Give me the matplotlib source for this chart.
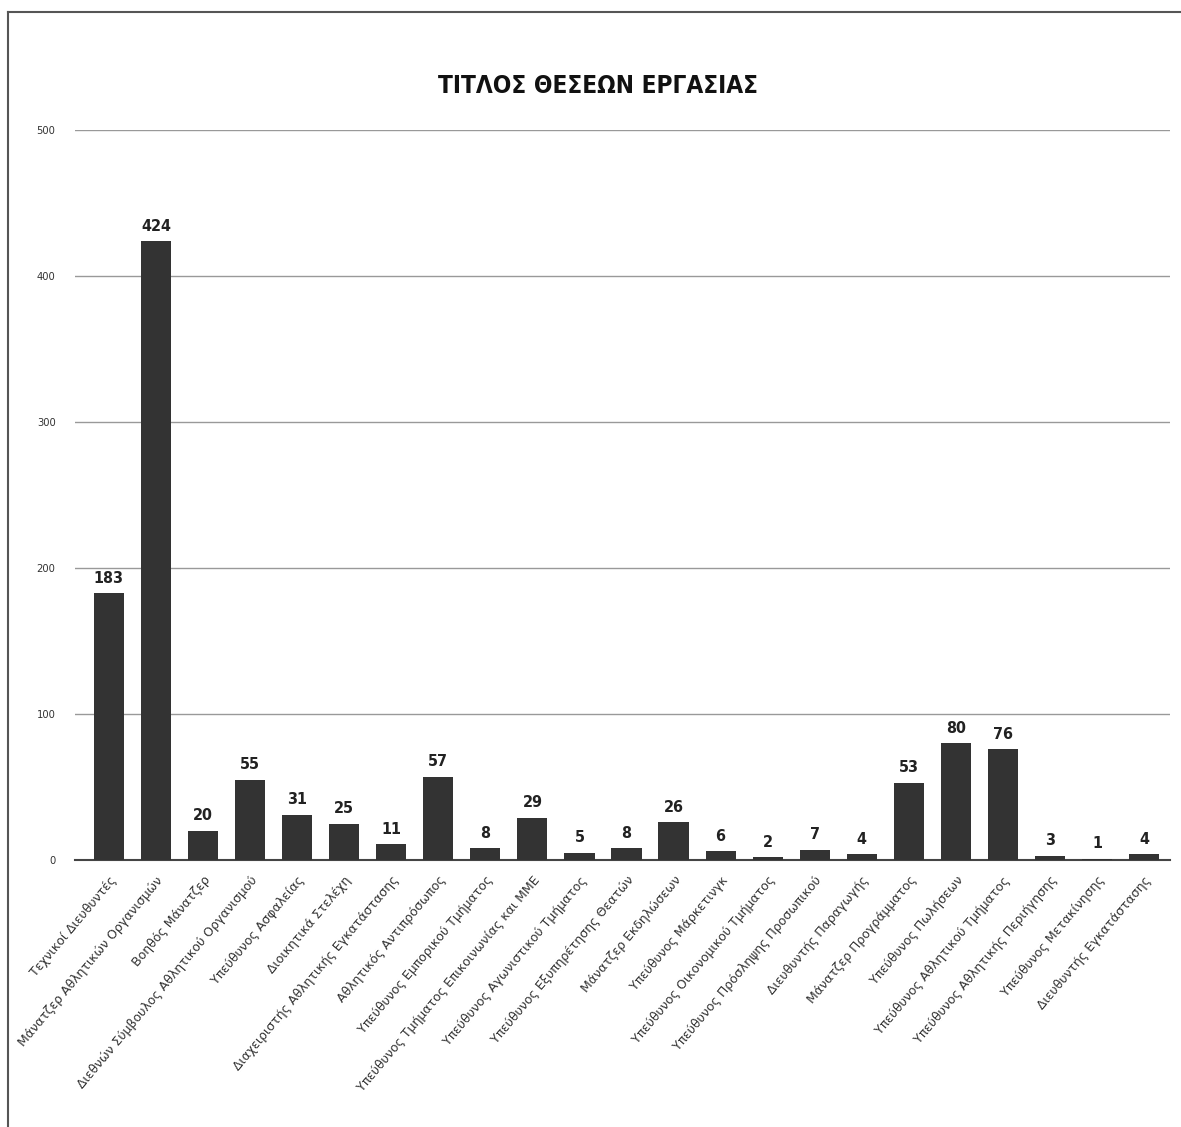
import numpy as np
import matplotlib.pyplot as plt
from matplotlib.lines import Line2D

# Τίτλοι θέσεων και πλήθος
titles = [
    "Τεχνικοί Διευθυντές",
    "Μάνατζερ Αθλητικών Οργανισμών",
    "Βοηθός Μάνατζερ",
    "Διεθνών Σύμβουλος Αθλητικού Οργανισμού",
    "Υπεύθυνος Ασφαλείας",
    "Διοικητικά Στελέχη",
    "Διαχειριστής Αθλητικής Εγκατάστασης",
    "Αθλητικός Αντιπρόσωπος",
    "Υπεύθυνος Εμπορικού Τμήματος",
    "Υπεύθυνος Τμήματος Επικοινωνίας και ΜΜΕ",
    "Υπεύθυνος Αγωνιστικού Τμήματος",
    "Υπεύθυνος Εξυπηρέτησης Θεατών",
    "Μάνατζερ Εκδηλώσεων",
    "Υπεύθυνος Μάρκετινγκ",
    "Υπεύθυνος Οικονομικού Τμήματος",
    "Υπεύθυνος Πρόσληψης Προσωπικού",
    "Διευθυντής Παραγωγής",
    "Μάνατζερ Προγράμματος",
    "Υπεύθυνος Πωλήσεων",
    "Υπεύθυνος Αθλητικού Τμήματος",
    "Υπεύθυνος Αθλητικής Περιήγησης",
    "Υπεύθυνος Μετακίνησης",
    "Διευθυντής Εγκατάστασης",
]
counts = [183, 424, 20, 55, 31, 25, 11, 57, 8, 29, 5, 8, 26, 6, 2, 7, 4,
          53, 80, 76, 3, 1, 4]
y_ticks = [0, 100, 200, 300, 400, 500]

plt.rcParams['font.family'] = ["DejaVu Sans"]

fig = plt.figure(figsize=(11.81, 11.27), dpi=100)
ax = fig.add_axes([75 / 1181, 1 - 860 / 1127, (1170 - 75) / 1181, (860 - 130) / 1127])

x = np.arange(len(counts))
bars = ax.bar(x, counts, width=0.64, color="#333333", zorder=3)

for xi, v in zip(x, counts):
    ax.text(xi, v + 5, str(v), ha="center", va="bottom", fontsize=11.5,
            fontweight="bold", fontstretch="condensed", color="#222222")

ax.set_xlim(-0.72, 22.55)
ax.set_ylim(0, 500)
ax.set_yticks(y_ticks)
ax.set_yticklabels([str(t) for t in y_ticks], fontsize=8, fontstretch="condensed",
                   color="#333333")
ax.yaxis.grid(True, color="#999999", linewidth=1, zorder=0)
ax.set_axisbelow(True)
ax.tick_params(axis="both", length=0)
ax.tick_params(axis="y", pad=14)

ax.set_xticks(x)
ax.set_xticklabels(titles, rotation=50, ha="right", rotation_mode="anchor",
                   fontsize=9, color="#333333")
ax.tick_params(axis="x", pad=10)

for s in ["top", "right", "left"]:
    ax.spines[s].set_visible(False)
ax.spines["bottom"].set_color("#444444")
ax.spines["bottom"].set_linewidth(1.5)

fig.text(598 / 1181, 1 - 86 / 1127, "ΤΙΤΛΟΣ ΘΕΣΕΩΝ ΕΡΓΑΣΙΑΣ", ha="center",
         va="center", fontsize=17.5, fontweight="bold", fontstretch="condensed",
         color="#111111")

# περίγραμμα σελίδας
fig.add_artist(Line2D([8 / 1181, 8 / 1181], [0, 1 - 12 / 1127],
                      transform=fig.transFigure, color="#555555", linewidth=1.5))
fig.add_artist(Line2D([8 / 1181, 1], [1 - 12 / 1127, 1 - 12 / 1127],
                      transform=fig.transFigure, color="#555555", linewidth=1.5))

plt.savefig("out.png", dpi=100)
